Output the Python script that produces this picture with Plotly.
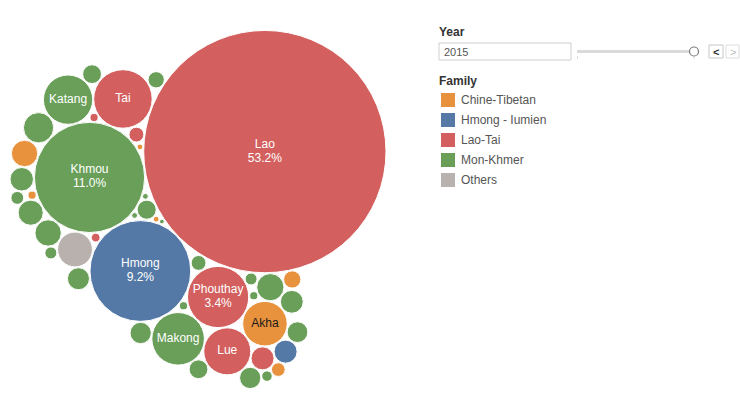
import math
import numpy as np
import plotly.graph_objects as go

# ---------------- data (2015, share of population, %) ----------------
groups = [
    "Lao", "Phouthay", "Tai", "Lue", "Nyouan", "Yang", "Xaek", "Thaineua",
    "Khmou", "Makong", "Katang", "Yrou", "Taoey", "Triang", "Xuay", "Oy", "Phong",
    "Katu", "Brao", "Pray", "Harak", "Lamed", "Pako", "Ngae", "Kri", "Lavy",
    "Kaseng", "Jeng", "Nyaheun", "Xingmoon", "Sadang", "Yae", "Samtao", "Bid", "Thaen",
    "Hmong", "Iumien",
    "Akha", "Singsali", "Lahu", "Hor", "Sila", "Hayi", "Lolo",
    "Others",
]
group_family = (
    ["Lao-Tai"] * 8
    + ["Mon-Khmer"] * 27
    + ["Hmong - Iumien"] * 2
    + ["Chine-Tibetan"] * 7
    + ["Others"]
)
group_share = [
    53.2, 3.4, 3.1, 2.0, 0.48, 0.20, 0.07, 0.06,
    11.0, 2.5, 2.2, 0.83, 0.67, 0.63, 0.57, 0.50, 0.47,
    0.44, 0.41, 0.41, 0.39, 0.33, 0.32, 0.32, 0.24, 0.20,
    0.15, 0.13, 0.13, 0.10, 0.06, 0.06, 0.03, 0.03, 0.02,
    9.2, 0.48,
    1.8, 0.63, 0.27, 0.17, 0.06, 0.03, 0.03,
    1.1,
]

family_names = ["Chine-Tibetan", "Hmong - Iumien", "Lao-Tai", "Mon-Khmer", "Others"]
family_colors = ["#E8923D", "#5479A6", "#D35F5E", "#699F58", "#B9B1AE"]
family_text_colors = ["#1A1A1A", "#FFFFFF", "#FFFFFF", "#FFFFFF", "#FFFFFF"]
selected_year = "2015"

# ---------------- styling / layout parameters ----------------
W, H = 740, 397
PX_PER_SQRT = 16.86                 # bubble radius (px) per sqrt(share)
PAD = 1.0                           # white gap between bubbles
ANCHOR = (-130.0, -80.0)            # packing attractor, relative to the largest bubble
WEIGHT_UP, WEIGHT_DOWN = 1.0, 0.4   # vertical weights of the attractor distance
ROTATE_DEG = -40.0                  # final orientation of the pack
BOX = (10, 386, 23, 396)            # area the pack is fitted into (x0, x1, y0, y1)
FONT = "Liberation Sans, Arial, Helvetica, sans-serif"


# ---------------- greedy circle packing ----------------
def pack(radii, anchor, wu, wd):
    A = np.array(anchor, float)
    P = np.zeros((0, 2))
    RR = np.zeros(0)
    for t, r in enumerate(radii):
        if t == 0:
            p = np.array([0.0, 0.0])
        else:
            cands = []
            for i in range(len(P)):
                d = A - P[i]
                nn = math.hypot(d[0], d[1])
                u = d / nn if nn > 1e-9 else np.array([1.0, 0.0])
                cands.append(P[i] + u * (RR[i] + r))
            m = len(P)
            if m >= 2:
                ii, jj = np.triu_indices(m, 1)
                pa, pb = P[ii], P[jj]
                ra, rb = RR[ii] + r, RR[jj] + r
                dv = pb - pa
                d = np.hypot(dv[:, 0], dv[:, 1])
                ok = (d <= ra + rb) & (d >= np.abs(ra - rb)) & (d > 1e-9)
                ds = np.where(d > 0, d, 1)
                a = (ra ** 2 - rb ** 2 + d ** 2) / (2 * ds)
                h = np.sqrt(np.clip(ra ** 2 - a ** 2, 0, None))
                u = dv / ds[:, None]
                base = pa + u * a[:, None]
                nrm = np.stack([-u[:, 1], u[:, 0]], 1)
                cands.extend(list((base + nrm * h[:, None])[ok]))
                cands.extend(list((base - nrm * h[:, None])[ok]))
            C = np.array(cands)
            dd = np.hypot(C[:, None, 0] - P[None, :, 0], C[:, None, 1] - P[None, :, 1])
            C = C[(dd >= (RR[None, :] + r) - 1e-6).all(1)]
            dx = C[:, 0] - A[0]
            dy = C[:, 1] - A[1]
            cost = np.hypot(dx, dy * np.where(dy < 0, wu, wd))
            p = C[int(np.argmin(cost))]
        P = np.vstack([P, p])
        RR = np.append(RR, r)
    return P


order = sorted(range(len(groups)), key=lambda i: -group_share[i])
radii = np.array([PX_PER_SQRT * math.sqrt(group_share[i]) for i in order])
P = pack(radii + PAD / 2, ANCHOR, WEIGHT_UP, WEIGHT_DOWN)
th = math.radians(ROTATE_DEG)
P = np.stack([P[:, 0] * math.cos(th) - P[:, 1] * math.sin(th),
              P[:, 0] * math.sin(th) + P[:, 1] * math.cos(th)], 1)

x0 = (P[:, 0] - radii).min(); x1 = (P[:, 0] + radii).max()
y0 = (P[:, 1] - radii).min(); y1 = (P[:, 1] + radii).max()
scale = min(1.0, (BOX[1] - BOX[0]) / (x1 - x0), (BOX[3] - BOX[2]) / (y1 - y0))
offx = BOX[1] - x1 * scale
offy = (BOX[2] + BOX[3]) / 2 - (y0 + y1) / 2 * scale
bx = P[:, 0] * scale + offx
by = P[:, 1] * scale + offy
br = radii * scale

fig = go.Figure()

for f, col in zip(family_names, family_colors):
    ks = [k for k, i in enumerate(order) if group_family[i] == f]
    fig.add_trace(go.Scatter(
        x=[bx[k] for k in ks], y=[by[k] for k in ks], mode="markers",
        marker=dict(size=[2 * br[k] for k in ks], sizemode="diameter", color=col,
                    line=dict(color="white", width=1), opacity=1),
        customdata=[[groups[order[k]], group_share[order[k]]] for k in ks],
        hovertemplate="%{customdata[0]}<br>" + f + "<br>%{customdata[1]:.1f}%<extra></extra>",
        showlegend=False, name=f,
    ))

# bubble labels
name_x, name_y, name_t, name_c = [], [], [], []
pct_x, pct_y, pct_t, pct_c = [], [], [], []
for k, i in enumerate(order):
    v = group_share[i]
    fam = group_family[i]
    tc = family_text_colors[family_names.index(fam)]
    if fam == "Others" or v < 1.5:
        continue
    if v >= 3.3:
        name_x.append(bx[k]); name_y.append(by[k] - 7); name_t.append(groups[i]); name_c.append(tc)
        pct_x.append(bx[k]); pct_y.append(by[k] + 7); pct_t.append(f"{v:.1f}%"); pct_c.append(tc)
    else:
        name_x.append(bx[k]); name_y.append(by[k]); name_t.append(groups[i]); name_c.append(tc)
for xx, yy, tt, cc in [(name_x, name_y, name_t, name_c), (pct_x, pct_y, pct_t, pct_c)]:
    fig.add_trace(go.Scatter(
        x=xx, y=yy, text=tt, mode="text", textposition="middle center",
        textfont=dict(family=FONT, size=12, color=cc),
        hoverinfo="skip", showlegend=False,
    ))

shapes = []
annotations = []

# Year filter
annotations.append(dict(x=437, y=32, text="<b>Year</b>", showarrow=False, xanchor="left",
                        yanchor="middle", font=dict(family=FONT, size=12, color="#333333")))
shapes.append(dict(type="rect", x0=439, x1=571, y0=43, y1=60, line=dict(color="#CFCFCF", width=1),
                   fillcolor="white", layer="above"))
annotations.append(dict(x=442, y=51.5, text=selected_year, showarrow=False, xanchor="left",
                        yanchor="middle", font=dict(family=FONT, size=11, color="#555555")))
shapes.append(dict(type="line", x0=577, x1=693, y0=51.5, y1=51.5, line=dict(color="#DADADA", width=3)))
shapes.append(dict(type="line", x0=577.5, x1=577.5, y0=56, y1=59, line=dict(color="#DADADA", width=1)))
shapes.append(dict(type="line", x0=694, x1=694, y0=56, y1=59, line=dict(color="#DADADA", width=1)))
shapes.append(dict(type="circle", x0=689.5, x1=698.5, y0=47, y1=56, fillcolor="white",
                   line=dict(color="#7A7A7A", width=1.2), layer="above"))
shapes.append(dict(type="rect", x0=709, x1=723, y0=45, y1=58, line=dict(color="#C8C8C8", width=1),
                   fillcolor="white"))
shapes.append(dict(type="rect", x0=726, x1=739, y0=45, y1=58, line=dict(color="#DDDDDD", width=1),
                   fillcolor="white"))
annotations.append(dict(x=716, y=51.5, text="<b>&lt;</b>", showarrow=False, xanchor="center",
                        yanchor="middle", font=dict(family=FONT, size=11, color="#333333")))
annotations.append(dict(x=732.5, y=51.5, text="&gt;", showarrow=False, xanchor="center",
                        yanchor="middle", font=dict(family=FONT, size=11, color="#BBBBBB")))

# Family legend
annotations.append(dict(x=437, y=80.5, text="<b>Family</b>", showarrow=False, xanchor="left",
                        yanchor="middle", font=dict(family=FONT, size=12, color="#333333")))
for n, (f, col) in enumerate(zip(family_names, family_colors)):
    yc = 100 + 20 * n
    shapes.append(dict(type="rect", x0=441, x1=455, y0=yc - 7, y1=yc + 7, fillcolor=col,
                       line=dict(color=col, width=0)))
    annotations.append(dict(x=459, y=yc, text=f, showarrow=False, xanchor="left", yanchor="middle",
                            font=dict(family=FONT, size=12, color="#555555")))

fig.update_layout(
    width=W, height=H, autosize=False,
    margin=dict(l=0, r=0, t=0, b=0, pad=0),
    paper_bgcolor="white", plot_bgcolor="white",
    xaxis=dict(range=[0, W], visible=False, fixedrange=True),
    yaxis=dict(range=[H, 0], visible=False, fixedrange=True),
    shapes=shapes, annotations=annotations, showlegend=False,
    hoverlabel=dict(font=dict(family=FONT)),
)

fig.write_html("out.html", config={"displayModeBar": False},
               post_script="document.body.style.margin='0';document.body.style.overflow='hidden';")
